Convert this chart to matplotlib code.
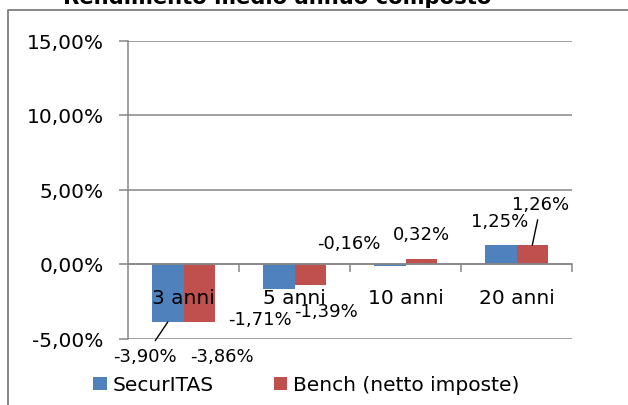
#!/usr/bin/env python3
# -*- coding: utf-8 -*-
"""Rendimento medio annuo composto — SecurITAS vs Bench (netto imposte)."""
import matplotlib
matplotlib.use("Agg")
import matplotlib.pyplot as plt
from matplotlib.lines import Line2D
from matplotlib.ticker import FixedLocator, FuncFormatter

# ── dati ────────────────────────────────────────────────────
CATEGORIES = ["3 anni", "5 anni", "10 anni", "20 anni"]
SECURITAS  = [-3.90, -1.71, -0.16, 1.25]
BENCH      = [-3.86, -1.39, 0.32, 1.26]
SERIES     = ["SecurITAS", "Bench (netto imposte)"]
Y_TICKS    = [-5, 0, 5, 10, 15]
TITLE      = "Rendimento medio annuo composto"

# ── stile ───────────────────────────────────────────────────
BLUE, RED, GRID = "#4F81BD", "#C0504D", "#868686"
W = 0.284
# posizione etichette (dx dal centro categoria, y in %)
SEC_LBL   = [(-0.347, -6.17), (-0.311, -3.69), (-0.509, 1.41), (-0.149, 2.89)]
BENCH_LBL = [(0.347, -6.17), (0.284, -3.16), (0.14, 2.01), (0.221, 4.03)]
SEC_LEADER, BENCH_LEADER = {0}, {3}


def pct(v):
    return f"{v:.2f}%".replace(".", ",")


def label_bars(ax, xs, vals, pos, leaders, offset):
    for i, (x, v, (dx, ly)) in enumerate(zip(xs, vals, pos)):
        arrow = None
        if i in leaders:
            arrow = dict(arrowstyle="-", color="black", lw=1.0, shrinkA=3, shrinkB=0)
        ax.annotate(pct(v), xy=(x + offset, v), xytext=(x + dx, ly),
                    textcoords="data", ha="center", va="center", fontsize=13,
                    annotation_clip=False, arrowprops=arrow, zorder=4)


def main():
    fig = plt.figure(figsize=(6.28, 4.06), dpi=100)
    ax = fig.add_axes([128 / 628, 66.5 / 406, 444 / 628, 298 / 406])
    xs = list(range(len(CATEGORIES)))

    ax.bar([x - W / 2 for x in xs], SECURITAS, W, color=BLUE, label=SERIES[0], zorder=2)
    ax.bar([x + W / 2 for x in xs], BENCH, W, color=RED, label=SERIES[1], zorder=2)

    ax.set_xlim(-0.5, len(CATEGORIES) - 0.5)
    ax.set_ylim(-5, 15)

    # assi stile Excel (etichette categoria sopra le barre)
    for s in ("top", "right"):
        ax.spines[s].set_visible(False)
    ax.spines["bottom"].set_position(("data", 0))
    for s in ("left", "bottom"):
        ax.spines[s].set_color(GRID); ax.spines[s].set_linewidth(1.1)
    ax.yaxis.set_major_locator(FixedLocator(Y_TICKS))
    ax.yaxis.set_major_formatter(FuncFormatter(lambda v, _: pct(v)))
    ax.tick_params(axis="y", length=6.5, width=1.1, color=GRID, pad=11, labelsize=14.5)
    ax.set_xticks(xs)
    ax.set_xticklabels(CATEGORIES)
    ax.set_xticks([x + 0.5 for x in xs], minor=True)
    ax.tick_params(axis="x", which="major", length=0, pad=17.5, labelsize=14.5)
    ax.tick_params(axis="x", which="minor", length=5.8, width=1.1, color=GRID)
    ax.yaxis.grid(True, color=GRID, lw=1.1)
    ax.set_axisbelow(False)

    label_bars(ax, xs, SECURITAS, SEC_LBL, SEC_LEADER, -W / 2)
    label_bars(ax, xs, BENCH, BENCH_LBL, BENCH_LEADER, W / 2)

    # cornice dell'area grafico (tagliata in alto e a destra)
    x0, y0 = 8 / 628, 1 - 11 / 406
    fig.add_artist(Line2D([x0, x0, 1.01], [-0.01, y0, y0], transform=fig.transFigure,
                          color=GRID, lw=1.4))
    fig.text(277 / 628, 1 - 4 / 406, TITLE, ha="center", va="baseline",
             fontsize=15.2, fontweight="bold")

    fig.legend(loc="center", bbox_to_anchor=(306.5 / 628, 1 - 386 / 406), ncol=2,
               frameon=False, fontsize=14.5, handlelength=0.65, handleheight=0.65,
               handletextpad=0.3, columnspacing=3.0, borderpad=0, borderaxespad=0)

    fig.savefig("out.png", dpi=100)
    plt.close(fig)


if __name__ == "__main__":
    main()
